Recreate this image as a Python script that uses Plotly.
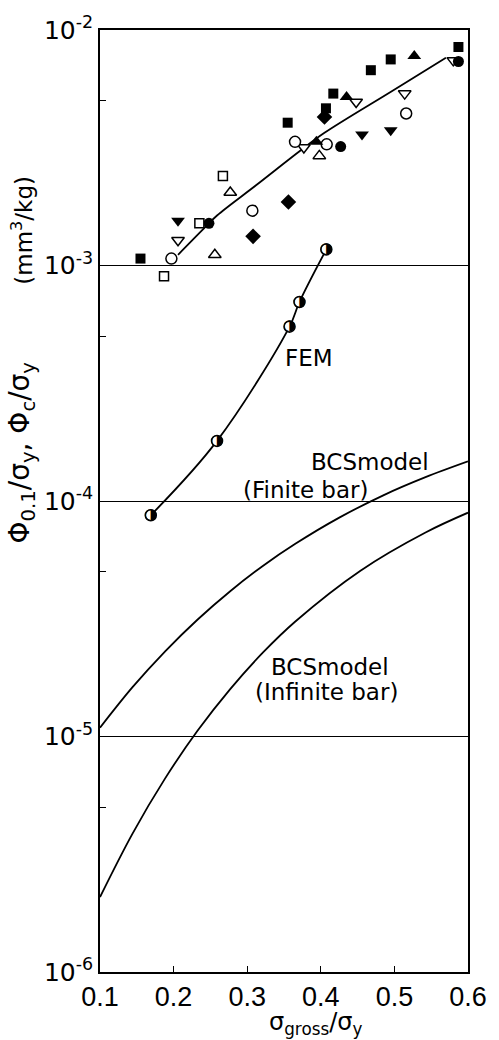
import plotly.graph_objects as go

# --- measured / computed values -------------------------------------------
# Experimental points, grouped by marker style: (sigma_gross/sigma_y, Phi/sigma_y)
sq_fill_x = [0.155, 0.355, 0.407, 0.417, 0.468, 0.495, 0.587]
sq_fill_y = [1.07e-3, 4.04e-3, 4.65e-3, 5.37e-3, 6.75e-3, 7.5e-3, 8.47e-3]

tri_up_fill_x = [0.394, 0.435, 0.527]
tri_up_fill_y = [3.35e-3, 5.2e-3, 7.76e-3]

tri_dn_fill_x = [0.206, 0.456, 0.495]
tri_dn_fill_y = [1.55e-3, 3.6e-3, 3.75e-3]

circ_fill_x = [0.248, 0.427, 0.587]
circ_fill_y = [1.51e-3, 3.2e-3, 7.35e-3]

dia_fill_x = [0.308, 0.356, 0.405]
dia_fill_y = [1.33e-3, 1.86e-3, 4.27e-3]

circ_open_x = [0.197, 0.307, 0.365, 0.408, 0.516]
circ_open_y = [1.07e-3, 1.71e-3, 3.35e-3, 3.27e-3, 4.42e-3]

sq_open_x = [0.187, 0.235, 0.267]
sq_open_y = [9.0e-4, 1.51e-3, 2.4e-3]

tri_up_open_x = [0.256, 0.277, 0.398]
tri_up_open_y = [1.11e-3, 2.04e-3, 2.92e-3]

tri_dn_open_x = [0.206, 0.377, 0.448, 0.514, 0.580]
tri_dn_open_y = [1.28e-3, 3.17e-3, 4.95e-3, 5.37e-3, 7.43e-3]

# Mean trend through the experimental data
trend_x = [0.206, 0.2416, 0.259, 0.312, 0.372, 0.405, 0.497, 0.570]
trend_y = [1.11e-3, 1.44e-3, 1.63e-3, 2.19e-3, 3.07e-3, 3.66e-3, 5.51e-3, 7.63e-3]

# FEM results
fem_x = [0.169, 0.259, 0.3575, 0.371, 0.4075]
fem_y = [8.7e-5, 1.8e-4, 5.5e-4, 7.0e-4, 1.17e-3]

# BCS model, finite bar
bcs_fin_x = [0.1, 0.1442, 0.1885, 0.2327, 0.2769, 0.3212, 0.3654, 0.4251,
             0.4849, 0.5423, 0.6]
bcs_fin_y = [1.09e-5, 1.62e-5, 2.30e-5, 3.14e-5, 4.14e-5, 5.30e-5, 6.58e-5,
             8.50e-5, 1.057e-4, 1.262e-4, 1.473e-4]

# BCS model, infinite bar
bcs_inf_x = [0.1, 0.1442, 0.1885, 0.2327, 0.2769, 0.3212, 0.3654, 0.4539,
             0.5423, 0.6]
bcs_inf_y = [2.08e-6, 3.87e-6, 6.64e-6, 1.06e-5, 1.59e-5, 2.27e-5, 3.08e-5,
             5.06e-5, 7.35e-5, 8.92e-5]

# Axis ticks
x_ticks = [0.1, 0.2, 0.3, 0.4, 0.5, 0.6]
x_ticklabels = ["0.1", "0.2", "0.3", "0.4", "0.5", "0.6"]
y_ticks = [1e-2, 1e-3, 1e-4, 1e-5, 1e-6]
y_ticklabels = ["10<sup>-2</sup>", "10<sup>-3</sup>", "10<sup>-4</sup>",
                "10<sup>-5</sup>", "10<sup>-6</sup>"]
y_minor = [5e-3, 5e-4, 5e-5, 5e-6]

# --- figure ----------------------------------------------------------------
FONT = "DejaVu Sans"
NARROW = "Liberation Sans Narrow, Liberation Sans, sans-serif"
INK = "black"
fig = go.Figure()

line_style = dict(color=INK, width=1.8, shape="spline", smoothing=1.0)
for xs, ys in [(trend_x, trend_y), (fem_x, fem_y),
               (bcs_fin_x, bcs_fin_y), (bcs_inf_x, bcs_inf_y)]:
    fig.add_trace(go.Scatter(x=xs, y=ys, mode="lines", line=line_style,
                             hoverinfo="skip", showlegend=False))


def pts(xs, ys, symbol, size, filled):
    marker = dict(symbol=symbol, size=size,
                  color=INK if filled else "white",
                  line=dict(color=INK, width=0 if filled else 1.5))
    fig.add_trace(go.Scatter(x=xs, y=ys, mode="markers", marker=marker,
                             showlegend=False))


pts(tri_dn_open_x, tri_dn_open_y, "triangle-down", 11, False)
pts(circ_fill_x, circ_fill_y, "circle", 11, True)
pts(sq_open_x, sq_open_y, "square", 9, False)
pts(circ_open_x, circ_open_y, "circle", 11, False)
pts(tri_up_open_x, tri_up_open_y, "triangle-up", 11, False)
pts(sq_fill_x, sq_fill_y, "square", 10, True)
pts(tri_up_fill_x, tri_up_fill_y, "triangle-up", 12, True)
pts(tri_dn_fill_x, tri_dn_fill_y, "triangle-down", 12, True)
pts(dia_fill_x, dia_fill_y, "diamond", 12, True)

# FEM points drawn as half-filled circles
fig.add_trace(go.Scatter(x=fem_x, y=fem_y, mode="markers",
                         marker=dict(symbol="circle", size=11, color="white",
                                     line=dict(color=INK, width=1.5)),
                         showlegend=False))
fig.add_trace(go.Scatter(x=fem_x, y=fem_y, mode="text", text=["\u25D1"] * len(fem_x),
                         textposition="middle center",
                         textfont=dict(family=FONT, size=15, color=INK),
                         showlegend=False))

label_font = dict(family=FONT, size=23, color=INK)


def label(text, px, py, font=label_font, anchor="left", angle=0):
    fig.add_annotation(text=text, xref="paper", yref="paper",
                       x=(px - 100) / 377, y=(972 - py) / 943,
                       xanchor=anchor, yanchor="middle", showarrow=False,
                       textangle=angle, font=font)


label("FEM", 287, 357)
label("BCSmodel", 314, 461)
label("(Finite bar)", 244, 489)
label("BCSmodel", 273, 667)
label("(Infinite bar)", 257, 692)

# axis titles
fig.add_annotation(text="\u03C3<sub>gross</sub>/\u03C3<sub>y</sub>",
                   xref="paper", yref="paper", x=(321 - 100) / 377,
                   y=(972 - 1006) / 943, xanchor="center", yanchor="top",
                   showarrow=False, font=dict(family=FONT, size=24, color=INK))
label("\u03A6<sub>0.1</sub>/\u03C3<sub>y</sub>, \u03A6<sub>c</sub>/\u03C3<sub>y</sub>",
      20, 452, font=dict(family=FONT, size=28, color=INK), anchor="center", angle=-90)
label("(mm<sup>3</sup>/kg)", 20, 229,
      font=dict(family=FONT, size=23, color=INK), anchor="center", angle=-90)

fig.update_xaxes(range=[0.1, 0.6], tickvals=x_ticks, ticktext=x_ticklabels,
                 ticks="inside", ticklen=6, tickwidth=1.2, tickcolor=INK,
                 showgrid=False, zeroline=False, showline=True, linecolor=INK,
                 linewidth=1.6, mirror=True,
                 tickfont=dict(family=NARROW, size=27, color=INK))
fig.update_yaxes(type="log", range=[-6, -2], tickvals=y_ticks, ticktext=y_ticklabels,
                 ticks="", showgrid=True, gridcolor=INK, gridwidth=1.1,
                 zeroline=False, showline=True, linecolor=INK, linewidth=1.6,
                 mirror=True,
                 minor=dict(tickvals=y_minor, ticks="inside", ticklen=6,
                            tickwidth=1.2, tickcolor=INK, showgrid=False),
                 tickfont=dict(family=FONT, size=25, color=INK))

fig.update_layout(width=499, height=1040,
                  margin=dict(l=100, r=22, t=29, b=68),
                  paper_bgcolor="white", plot_bgcolor="white",
                  showlegend=False)

fig.write_html("out.html")
